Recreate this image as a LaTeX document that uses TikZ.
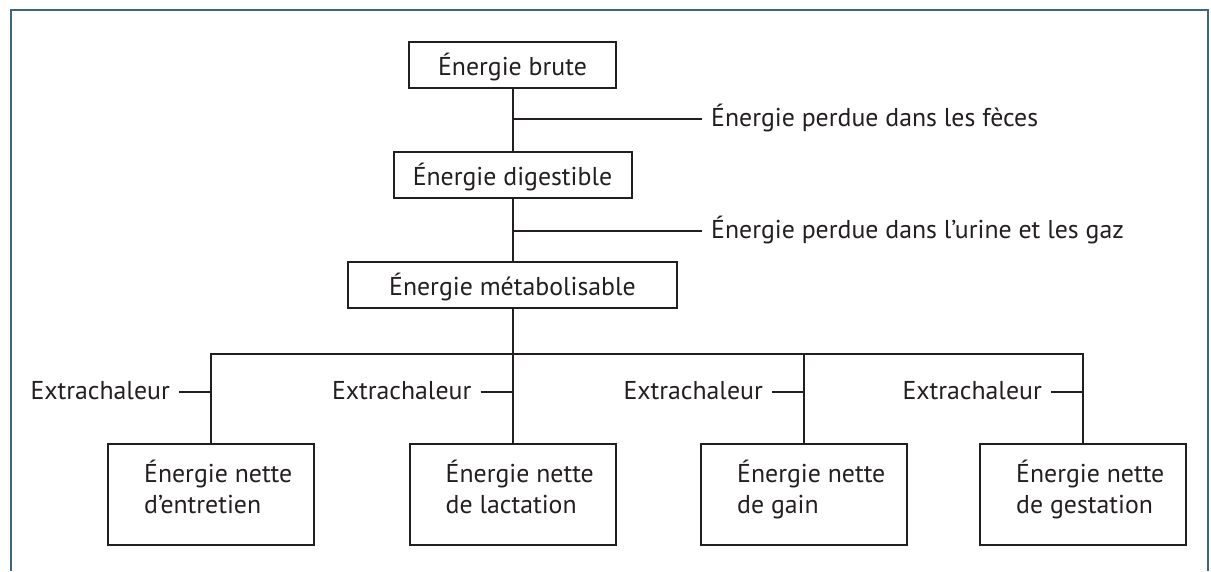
\documentclass[tikz,border=0pt]{standalone}
\usepackage{fontspec}
\setmainfont{PT Sans}
\usetikzlibrary{positioning}
\definecolor{framecol}{RGB}{62,102,128}
\definecolor{ink}{RGB}{35,31,32}
\tikzset{
  ebox/.style={draw=ink, line width=2pt, minimum height=46pt, inner sep=0pt,
    text height=20pt, text depth=0pt},
  netbox/.style={draw=ink, line width=2pt, minimum width=206pt, minimum height=101pt, inner sep=0pt},
  nettext/.style={anchor=south west, xshift=37pt, yshift=-19.5pt, align=left,
    inner sep=0pt, text depth=0pt},
  link/.style={draw=ink, line width=2pt},
  losstext/.style={anchor=base west, yshift=-7pt, inner xsep=9pt, inner ysep=0pt},
  heattext/.style={anchor=base east, xshift=-32pt, yshift=-7pt, inner xsep=9pt, inner ysep=0pt}
}

\begin{document}
\begin{tikzpicture}[x=1pt, y=-1pt, font=\fontsize{25.8}{31}\selectfont, text=ink]
\useasboundingbox (0,0) rectangle (1211,571);
% frame, open at the bottom
\draw[framecol, line width=2pt] (11,571) -- (11,10) -- (1208,10) -- (1208,571);

% main chain
\node[ebox, minimum width=207pt] (brute) at (512.5,65) {Énergie brute};
\node[ebox, minimum width=238pt] (digest) at (512.5,175) {Énergie digestible};
\node[ebox, minimum width=329pt] (metab) at (512.5,285) {Énergie métabolisable};
\draw[link] (brute) -- (digest);
\draw[link] (digest) -- (metab);

% losses
\coordinate (fecrow) at (0,119);
\coordinate (urirow) at (0,231);
\node[losstext] (feces) at (702,119) {Énergie perdue dans les fèces};
\node[losstext] (urine) at (702,231) {Énergie perdue dans l’urine et les gaz};
\draw[link] (brute.south |- fecrow) -- (feces.west |- fecrow);
\draw[link] (brute.south |- urirow) -- (urine.west |- urirow);

% net energies
\foreach \i/\x/\t in {1/211/d’entretien, 2/512.5/de lactation, 3/804/de gain, 4/1083/de gestation}
  \node[netbox, label={[nettext]west:Énergie nette\\\t}] (net\i) at (\x,494.5) {};

\coordinate (hub) at (512.5,354);
\coordinate (heatrow) at (0,392);
\draw[link] (metab) -- (hub);
\draw[link] (net1.north) |- (hub) -| (net4.north);
\draw[link] (hub) -- (net2.north);
\draw[link] (net3.north) -- (net3.north |- hub);

\foreach \i in {1,...,4} {
  \node[heattext] (heat\i) at (net\i.north |- heatrow) {Extrachaleur};
  \draw[link] (heat\i.east |- heatrow) -- (net\i.north |- heatrow);
}
\end{tikzpicture}
\end{document}
